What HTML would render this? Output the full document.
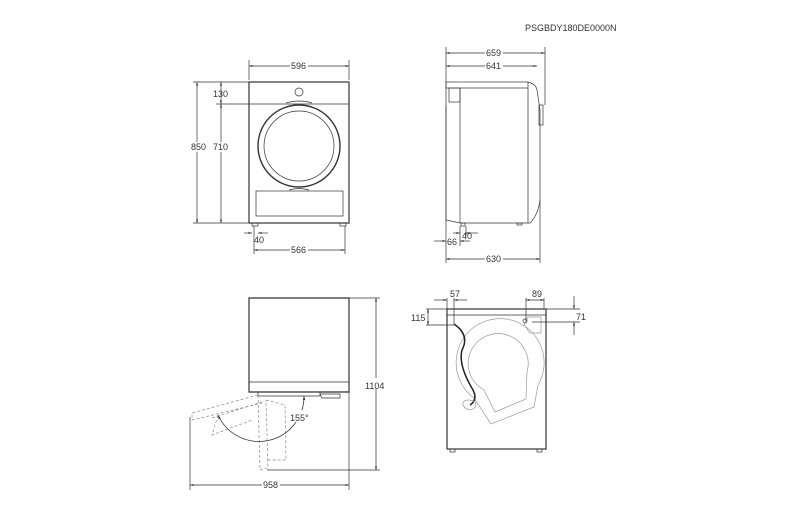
<!DOCTYPE html>
<html><head><meta charset="utf-8"><style>
html,body{margin:0;padding:0;background:#fff;}
svg{display:block;}
text{font-family:"Liberation Sans",sans-serif;font-size:9px;fill:#333;}
</style></head><body>
<svg width="800" height="513" viewBox="0 0 800 513" xmlns="http://www.w3.org/2000/svg">
<defs>
<marker id="a" viewBox="0 0 10 10" refX="10" refY="5" markerWidth="5" markerHeight="5" orient="auto-start-reverse"><path d="M0,2 L10,5 L0,8z" fill="#333"/></marker>
</defs>
<text x="525" y="31">PSGBDY180DE0000N</text>
<g stroke="#333" fill="none" stroke-width="0.7">
<!-- FRONT VIEW -->
<rect x="249" y="82" width="100" height="141" stroke-width="1.2"/>
<line x1="249" y1="104" x2="349" y2="104"/>
<circle cx="299" cy="92" r="4"/>
<circle cx="299" cy="146" r="41" stroke-width="1.4"/>
<circle cx="299" cy="146" r="35"/>
<rect x="256" y="191" width="87" height="25"/>
<path d="M289 190 Q299 187 309 190"/>
<path d="M286 103 Q299 99 312 103"/>
<rect x="252" y="223" width="6" height="3"/>
<rect x="340" y="223" width="6" height="3"/>
<line x1="249" y1="60" x2="249" y2="80"/><line x1="349" y1="60" x2="349" y2="80"/>
<line x1="249" y1="66" x2="349" y2="66" marker-start="url(#a)" marker-end="url(#a)"/>
<line x1="193" y1="82" x2="249" y2="82"/><line x1="193" y1="223" x2="249" y2="223"/>
<line x1="216" y1="104" x2="249" y2="104"/>
<line x1="197" y1="82" x2="197" y2="223" marker-start="url(#a)" marker-end="url(#a)"/>
<line x1="221" y1="82" x2="221" y2="104" marker-start="url(#a)" marker-end="url(#a)"/>
<line x1="221" y1="104" x2="221" y2="223" marker-start="url(#a)" marker-end="url(#a)"/>
<line x1="254" y1="226" x2="254" y2="254"/><line x1="345" y1="226" x2="345" y2="254"/>
<line x1="244" y1="233" x2="252" y2="233" marker-end="url(#a)"/><line x1="268" y1="233" x2="258" y2="233" marker-end="url(#a)"/>
<line x1="254" y1="250" x2="345" y2="250" marker-start="url(#a)" marker-end="url(#a)"/>
<!-- SIDE VIEW -->
<rect x="446" y="82" width="82" height="6"/>
<path d="M528 82 Q536 84 537 90 L540 110 L540 200 Q538 215 530 223 L460 223 L446 220 L446 106"/>
<path d="M460 223 L460 88"/>
<rect x="449" y="88" width="11" height="14"/>
<path d="M528 88 L528 223"/>
<rect x="539" y="105" width="4" height="20"/>
<rect x="461" y="223" width="4" height="3"/><rect x="517" y="223" width="5" height="2"/>
<line x1="446" y1="47" x2="446" y2="263"/><line x1="545" y1="47" x2="545" y2="105"/><line x1="540" y1="200" x2="540" y2="263"/>
<line x1="446" y1="53" x2="545" y2="53" marker-start="url(#a)" marker-end="url(#a)"/>
<line x1="446" y1="66" x2="537" y2="66" marker-start="url(#a)" marker-end="url(#a)"/>
<line x1="446" y1="259" x2="540" y2="259" marker-start="url(#a)" marker-end="url(#a)"/>
<line x1="460" y1="226" x2="460" y2="246"/><line x1="466" y1="226" x2="466" y2="236"/>
<line x1="453" y1="233" x2="460" y2="233" marker-end="url(#a)"/><line x1="478" y1="233" x2="466" y2="233" marker-end="url(#a)"/>
<line x1="434" y1="241" x2="446" y2="241" marker-end="url(#a)"/><line x1="470" y1="241" x2="460" y2="241" marker-end="url(#a)"/>
<!-- TOP VIEW -->
<path d="M249 298 L349 298 L349 392 L249 392 Z" stroke-width="1.2"/>
<line x1="249" y1="382" x2="349" y2="382"/>
<path d="M258 392 L258 396 L320 396 L320 392"/>
<path d="M320 394 L340 394 L340 398 L322 398 Z"/>
<line x1="349" y1="298" x2="380" y2="298"/>
<line x1="267" y1="470" x2="380" y2="470"/>
<line x1="376" y1="298" x2="376" y2="470" marker-start="url(#a)" marker-end="url(#a)"/>
<line x1="190" y1="417" x2="190" y2="490"/><line x1="349" y1="392" x2="349" y2="490"/>
<line x1="190" y1="485" x2="349" y2="485" marker-start="url(#a)" marker-end="url(#a)"/>
<g stroke="#888" stroke-dasharray="3,2">
<path d="M258 395 L192 413 L192 420 L262 403"/>
<path d="M258 395 L260 470 L268 468 L266 400"/>
<path d="M218 415 L212 435 L252 420"/>
<path d="M266 400 L285 405 L286 460 L268 460"/>
<path d="M212 418 L262 402"/>
</g>
<path d="M218 415 A45 45 0 0 0 304 396" marker-start="url(#a)" marker-end="url(#a)" stroke-width="0.8"/>
<!-- REAR VIEW -->
<rect x="447" y="309" width="99" height="140" stroke-width="1.2"/>
<line x1="447" y1="315" x2="546" y2="315"/>
<rect x="450" y="449" width="5" height="3"/><rect x="537" y="449" width="5" height="3"/>
<g stroke="#999">
<path d="M474 398 A44 44 0 1 1 538 385 L534 407 L491 424 Z" fill="#fff"/>
<path d="M484 390 A30 30 0 1 1 527 372 L526 399 L495 412 Z"/>
<path d="M528 317 L541 317 L541 333 L530 333 L524 325 Z"/>
</g>
<circle cx="525" cy="321" r="2"/>
<path d="M454 324 Q470 335 462 350 Q458 365 473 390 Q478 400 470 405" stroke-width="1.5" stroke="#222"/>
<path d="M463 402 Q468 398 475 402 Q478 408 470 410 Q462 408 463 402" stroke="#999"/>
<line x1="447" y1="298" x2="447" y2="309"/><line x1="454" y1="298" x2="454" y2="324"/>
<line x1="434" y1="300" x2="447" y2="300" marker-end="url(#a)"/><line x1="467" y1="300" x2="454" y2="300" marker-end="url(#a)"/>
<line x1="426" y1="309" x2="447" y2="309"/><line x1="426" y1="325" x2="454" y2="325"/>
<line x1="428" y1="309" x2="428" y2="325" marker-start="url(#a)" marker-end="url(#a)"/>
<line x1="526" y1="298" x2="526" y2="321"/><line x1="544" y1="298" x2="544" y2="309"/>
<line x1="526" y1="300" x2="544" y2="300" marker-start="url(#a)" marker-end="url(#a)"/>
<line x1="546" y1="309" x2="580" y2="309"/><line x1="532" y1="322" x2="580" y2="322"/>
<line x1="574" y1="296" x2="574" y2="309" marker-end="url(#a)"/><line x1="574" y1="335" x2="574" y2="322" marker-end="url(#a)"/>
</g>
<g fill="#fff"><rect x="290" y="61" width="18" height="10"/><rect x="290" y="245" width="18" height="10"/><rect x="485" y="48" width="18" height="10"/><rect x="485" y="61" width="18" height="10"/><rect x="485" y="254" width="18" height="10"/><rect x="262" y="480" width="18" height="10"/><rect x="370" y="378" width="20" height="10"/><rect x="190" y="142" width="18" height="10"/><rect x="212" y="142" width="18" height="10"/><rect x="287" y="410" width="22" height="12"/></g>
<text x="291" y="69">596</text>
<text x="291" y="253">566</text>
<text x="191" y="150">850</text>
<text x="213" y="150">710</text>
<text x="213" y="97">130</text>
<text x="254" y="243">40</text>
<text x="486" y="56">659</text>
<text x="486" y="69">641</text>
<text x="486" y="262">630</text>
<text x="462" y="239">40</text>
<text x="447" y="245">66</text>
<text x="365" y="389">1104</text>
<text x="263" y="488">958</text>
<text x="290" y="421">155°</text>
<text x="450" y="297">57</text>
<text x="532" y="297">89</text>
<text x="411" y="321">115</text>
<text x="576" y="320">71</text>
</svg>
</body></html>
